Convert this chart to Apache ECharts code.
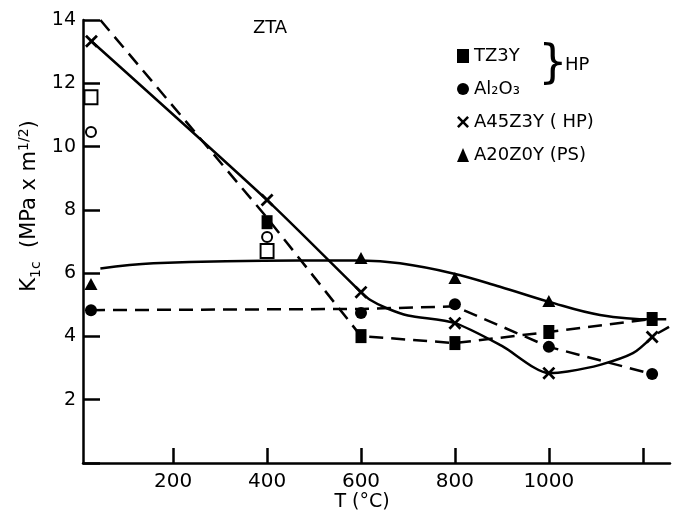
<!DOCTYPE html>
<html>
<head>
<meta charset="utf-8">
<script src="https://cdn.jsdelivr.net/npm/echarts@6/dist/echarts.min.js"></script>
<style>
  html, body { margin: 0; padding: 0; background: #fff; }
  #main { width: 675px; height: 515px; }
</style>
</head>
<body>
<div id="main"></div>
<script>
// measured points (T in degC, K1c in MPa m^1/2)
var tz3yT = [400, 600, 800, 1000, 1220];
var tz3yK = [7.61, 4.01, 3.79, 4.14, 4.55];
var al2o3T = [25, 600, 800, 1000, 1220];
var al2o3K = [4.83, 4.74, 5.02, 3.67, 2.81];
var a45T = [26, 400, 600, 800, 1000, 1220];
var a45K = [13.33, 8.31, 5.40, 4.42, 2.84, 3.98];
var a20T = [25, 600, 800, 1000];
var a20K = [5.66, 6.48, 5.85, 5.12];
// open symbols, not in legend
var openSqT = [25, 400];
var openSqK = [11.56, 6.70];
var openCirT = [25, 400];
var openCirK = [10.46, 7.14];

// drawn curves
var tz3yFitT = [45, 400, 600, 800, 1000, 1220];
var tz3yFitK = [14.0, 7.75, 4.01, 3.79, 4.14, 4.55];
var al2o3FitT = [25, 600, 800, 1000, 1220];
var al2o3FitK = [4.83, 4.87, 4.95, 3.67, 2.81];
var a45FitT = [26, 400, 600, 620, 655, 700, 800, 900, 1000, 1040, 1109, 1179, 1220];
var a45FitK = [13.33, 8.31, 5.40, 5.15, 4.89, 4.66, 4.42, 3.70, 2.84, 2.89, 3.10, 3.47, 3.98];
var a45TailT = [1232, 1256];
var a45TailK = [4.10, 4.30];
var a20FitT = [45, 158, 470, 600, 683, 796, 896, 999, 1109, 1222, 1250];
var a20FitK = [6.15, 6.31, 6.40, 6.40, 6.31, 5.99, 5.57, 5.10, 4.68, 4.54, 4.54];

var xTicks = [200, 400, 600, 800, 1000, 1200];
var xLabels = [200, 400, 600, 800, 1000];

function pairs(xs, ys) {
    return xs.map(function (x, i) { return [x, ys[i]]; });
}

var FONT = 'DejaVu Sans';
var crossPath = 'path://M0,1.5 L1.5,0 L5,3.5 L8.5,0 L10,1.5 L6.5,5 L10,8.5 L8.5,10 L5,6.5 L1.5,10 L0,8.5 L3.5,5 Z';

var dom = document.getElementById('main');
var myChart = echarts.init(dom, null, {renderer: 'canvas'});

function fitLine(name, xs, ys, dashed, smooth) {
    return {
        name: name,
        type: 'line',
        data: pairs(xs, ys),
        showSymbol: false,
        symbol: 'none',
        smooth: smooth,
        silent: true,
        z: 1,
        lineStyle: {color: '#000', width: 2.5, opacity: 1, type: dashed ? [14, 8] : 'solid'}
    };
}

var option = {
    backgroundColor: '#fff',
    animation: false,
    grid: {left: 83, right: 5, top: 20, bottom: 52, containLabel: false, outerBoundsMode: 'none'},
    legend: {
        orient: 'vertical',
        left: 452,
        top: 42,
        itemWidth: 12,
        itemHeight: 14,
        itemGap: 15,
        data: ['TZ3Y', 'Al₂O₃', 'A45Z3Y ( HP)', 'A20Z0Y (PS)'],
        itemStyle: {opacity: 1},
        textStyle: {fontFamily: FONT, fontSize: 18, color: '#000'}
    },
    xAxis: {
        type: 'value',
        min: 8,
        max: 1258,
        splitLine: {show: false},
        axisLine: {lineStyle: {color: '#000', width: 2.5}},
        axisTick: {inside: true, length: 15, customValues: xTicks, lineStyle: {color: '#000', width: 2.5}},
        axisLabel: {
            customValues: xLabels, fontFamily: FONT, fontSize: 20, color: '#000', margin: 9,
            formatter: function (v) { return String(v); }
        }
    },
    yAxis: {
        type: 'value',
        min: 0,
        max: 14,
        interval: 2,
        splitLine: {show: false},
        axisLine: {lineStyle: {color: '#000', width: 2.5}},
        axisTick: {inside: true, length: 17, lineStyle: {color: '#000', width: 2.5}},
        axisLabel: {
            fontFamily: FONT, fontSize: 19, color: '#000', margin: 7,
            formatter: function (v) { return v === 0 ? '' : String(v); }
        }
    },
    graphic: [
        {type: 'text', x: 270, y: 28, style: {text: 'ZTA', fontFamily: FONT, fontSize: 18, fill: '#000', align: 'center', verticalAlign: 'middle'}},
        {type: 'text', x: 362, y: 502, style: {text: 'T (°C)', fontFamily: FONT, fontSize: 19, fill: '#000', align: 'center', verticalAlign: 'middle'}},
        {type: 'text', x: 553, y: 65, style: {text: '}', fontFamily: FONT, fontSize: 46, fill: '#000', align: 'center', verticalAlign: 'middle'}},
        {type: 'text', x: 565, y: 65, style: {text: 'HP', fontFamily: FONT, fontSize: 18, fill: '#000', align: 'left', verticalAlign: 'middle'}},
        {
            type: 'text', x: 30, y: 206, rotation: Math.PI / 2,
            style: {
                text: '{n|K}{sub|1c}{n|  (MPa x m}{sup|1/2}{n|)}',
                fontFamily: FONT, fontSize: 21, fill: '#000', align: 'center', verticalAlign: 'middle',
                rich: {
                    n: {fontFamily: FONT, fontSize: 21, fill: '#000', lineHeight: 30, verticalAlign: 'middle'},
                    sub: {fontFamily: FONT, fontSize: 14, fill: '#000', lineHeight: 30, verticalAlign: 'bottom', padding: [0, 0, 2, 0]},
                    sup: {fontFamily: FONT, fontSize: 14, fill: '#000', lineHeight: 30, verticalAlign: 'top', padding: [2, 0, 0, 0]}
                }
            }
        }
    ],
    series: [
        fitLine('fit TZ3Y', tz3yFitT, tz3yFitK, true, false),
        fitLine('fit Al2O3', al2o3FitT, al2o3FitK, true, false),
        fitLine('fit A45Z3Y', a45FitT, a45FitK, false, 0.25),
        fitLine('tail A45Z3Y', a45TailT, a45TailK, true, false),
        fitLine('fit A20Z0Y', a20FitT, a20FitK, false, 0.4),
        {
            name: 'TZ3Y', type: 'scatter', data: pairs(tz3yT, tz3yK),
            symbol: 'rect', symbolSize: [11, 14], z: 3,
            itemStyle: {color: '#000', opacity: 1}
        },
        {
            name: 'Al₂O₃', type: 'scatter', data: pairs(al2o3T, al2o3K),
            symbol: 'circle', symbolSize: 12, z: 3,
            itemStyle: {color: '#000', opacity: 1}
        },
        {
            name: 'A45Z3Y ( HP)', type: 'scatter', data: pairs(a45T, a45K),
            symbol: crossPath, symbolSize: 13, z: 3,
            itemStyle: {color: '#000', opacity: 1}
        },
        {
            name: 'A20Z0Y (PS)', type: 'scatter', data: pairs(a20T, a20K),
            symbol: 'triangle', symbolSize: [13, 12], z: 3,
            itemStyle: {color: '#000', opacity: 1}
        },
        {
            name: 'open square', type: 'scatter', data: pairs(openSqT, openSqK),
            symbol: 'rect', symbolSize: [13, 14], z: 3,
            itemStyle: {color: '#fff', borderColor: '#000', borderWidth: 2, opacity: 1}
        },
        {
            name: 'open circle', type: 'scatter', data: pairs(openCirT, openCirK),
            symbol: 'circle', symbolSize: 10, z: 3,
            itemStyle: {color: '#fff', borderColor: '#000', borderWidth: 2, opacity: 1}
        }
    ]
};

myChart.setOption(option, true);

window.onresize = function () {
    myChart.resize();
};
</script>
</body>
</html>
